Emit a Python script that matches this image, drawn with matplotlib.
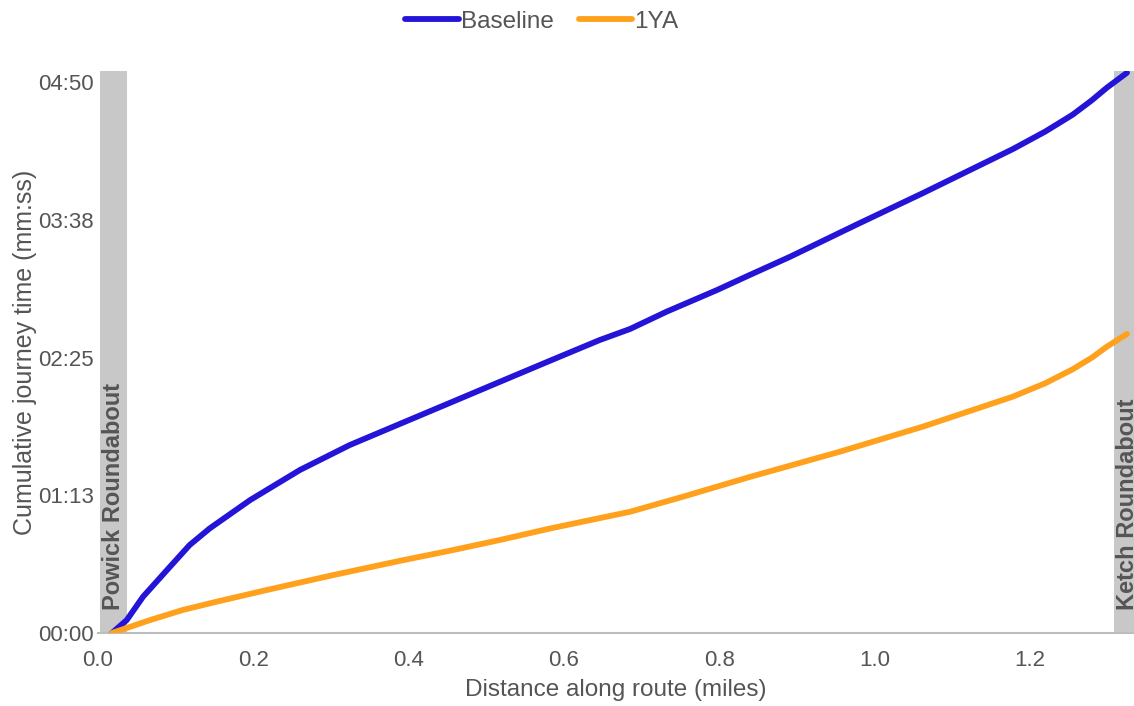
import numpy as np
import matplotlib.pyplot as plt

# distance along route (miles) and cumulative time (seconds)
dist_base = [0.018, 0.037, 0.058, 0.089, 0.118, 0.144, 0.196, 0.26, 0.324, 0.389,
             0.453, 0.518, 0.582, 0.646, 0.685, 0.732, 0.797, 0.839, 0.891, 0.977,
             1.062, 1.178, 1.22, 1.255, 1.28, 1.299, 1.325]
time_base = [0, 6.8, 19.1, 33.2, 46.3, 55.1, 70, 85.8, 98.9, 110.1,
             121.1, 132.3, 143.3, 154.2, 160, 169.1, 180.5, 188.4, 198, 215,
             231.5, 254.7, 264, 272.8, 280.5, 287, 294.9]

dist_1ya = [0.018, 0.067, 0.109, 0.153, 0.217, 0.303, 0.389, 0.453, 0.518, 0.582,
            0.685, 0.753, 0.839, 0.955, 1.062, 1.178, 1.22, 1.255, 1.28, 1.299, 1.325]
time_1ya = [0, 6.8, 12.1, 16.5, 22.6, 30.5, 38, 43.3, 49, 55,
            63.8, 71.7, 82.1, 95.4, 108.6, 124.4, 131.5, 138.8, 145, 150.7, 157.4]

# roundabout bands (miles)
bands = [(0.003, 0.037, 'Powick Roundabout'), (1.308, 1.343, 'Ketch Roundabout')]

y_ticks = [0, 72.5, 145, 217.5, 290]
x_ticks = [0.0, 0.2, 0.4, 0.6, 0.8, 1.0, 1.2]

plt.rcParams['font.family'] = ['Liberation Sans', 'DejaVu Sans']
txt = '#555555'

fig = plt.figure(figsize=(11.34, 7.06), dpi=100)
ax = fig.add_axes([98 / 1134, 1 - 633 / 706, 1036 / 1134, 562 / 706])

for x0, x1, name in bands:
    ax.axvspan(x0, x1, color='#c8c8c8', lw=0, zorder=1)
    ax.text((x0 + x1) / 2, 12, name, rotation=90, ha='center', va='bottom',
            fontsize=17, fontweight='bold', color='#555555', clip_on=False, zorder=2)

ax.plot(dist_base, time_base, color='#2414d8', lw=4.2, solid_capstyle='round',
        solid_joinstyle='round', label='Baseline', zorder=3)
ax.plot(dist_1ya, time_1ya, color='#ffa11c', lw=4.2, solid_capstyle='round',
        solid_joinstyle='round', label='1YA', zorder=3)

ax.set_xlim(0, 1.334)
ax.set_ylim(0, 295.8)
ax.set_xticks(x_ticks)
ax.set_xticklabels([f'{v:.1f}' for v in x_ticks])
ax.set_yticks(y_ticks)
ax.set_yticklabels(['%02d:%02d' % (int(v + 0.5) // 60, int(v + 0.5) % 60) for v in y_ticks])
ax.tick_params(length=0, labelsize=16, labelcolor=txt)
ax.tick_params(axis='y', pad=3)
ax.tick_params(axis='x', pad=12)

for s in ['top', 'right', 'left']:
    ax.spines[s].set_visible(False)
ax.spines['bottom'].set_color('#bdbdbd')
ax.spines['bottom'].set_linewidth(1.5)

ax.set_xlabel('Distance along route (miles)', fontsize=17.5, color=txt, labelpad=6)
ax.set_ylabel('Cumulative journey time (mm:ss)', fontsize=18, color=txt, labelpad=1)

fig.legend(loc='upper center', bbox_to_anchor=(0.478, 1.016), ncol=2, frameon=False,
           fontsize=17.5, labelcolor=txt, handlelength=2.2, handletextpad=0.1,
           columnspacing=1.0)

fig.savefig('out.png', dpi=100)
